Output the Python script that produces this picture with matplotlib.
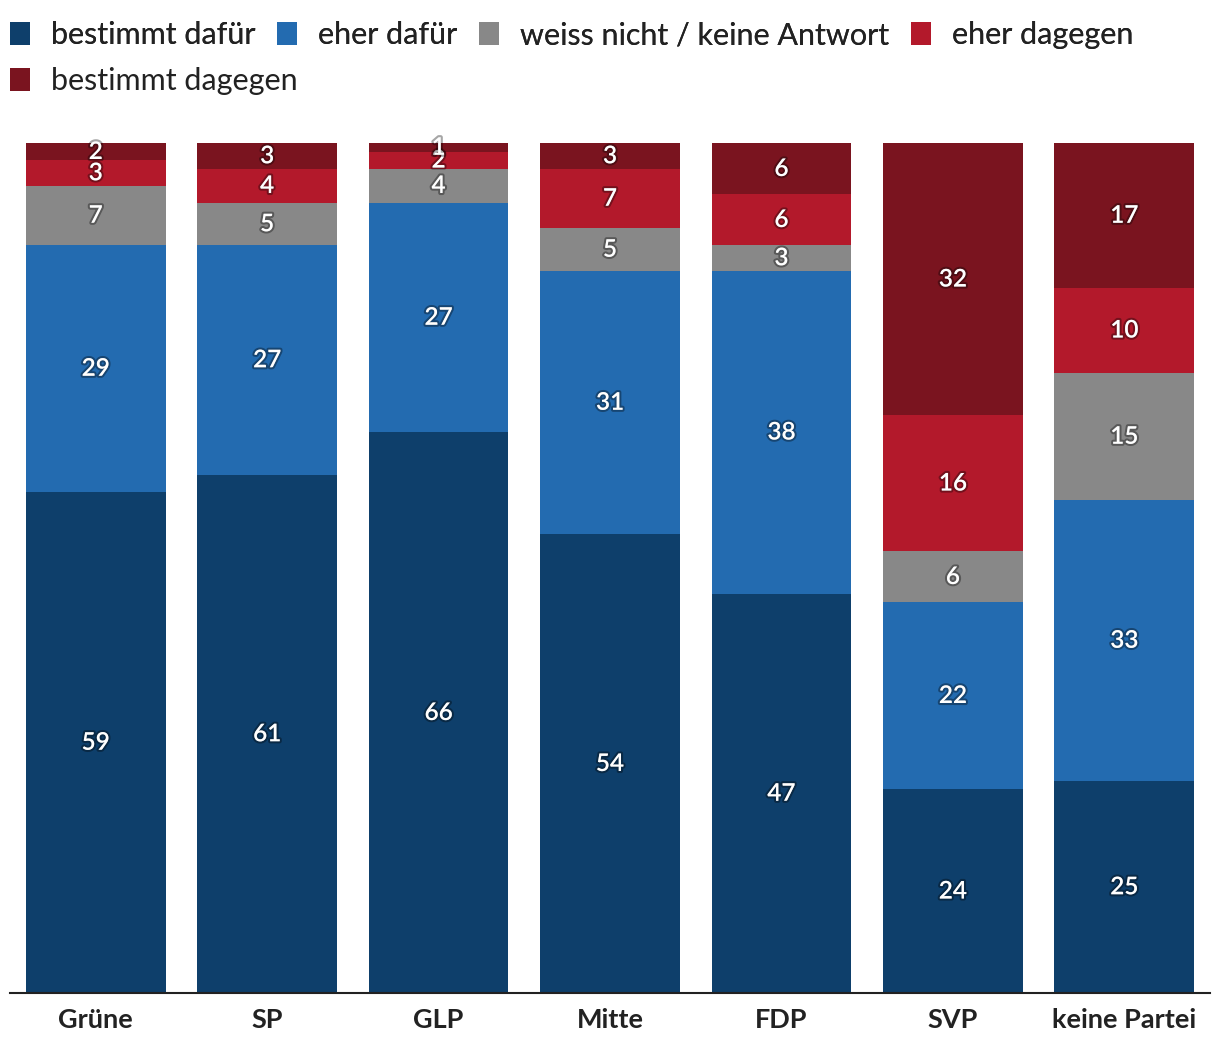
import matplotlib
matplotlib.use("Agg")
import matplotlib.pyplot as plt
import matplotlib.patheffects as pe
from matplotlib.patches import Patch
import numpy as np

plt.rcParams["font.family"] = ["Lato", "DejaVu Sans"]

parties = ["Grüne", "SP", "GLP", "Mitte", "FDP", "SVP", "keine Partei"]
series_names = ["bestimmt dafür", "eher dafür", "weiss nicht / keine Antwort",
                "eher dagegen", "bestimmt dagegen"]
bestimmt_dafuer = [59, 61, 66, 54, 47, 24, 25]
eher_dafuer = [29, 27, 27, 31, 38, 22, 33]
weiss_nicht = [7, 5, 4, 5, 3, 6, 15]
eher_dagegen = [3, 4, 2, 7, 6, 16, 10]
bestimmt_dagegen = [2, 3, 1, 3, 6, 32, 17]
colors = ["#0e3f6b", "#236bb0", "#888888", "#b3192b", "#7a141f"]

series = [bestimmt_dafuer, eher_dafuer, weiss_nicht, eher_dagegen, bestimmt_dagegen]

fig = plt.figure(figsize=(12.2, 10.56), dpi=100)
ax = fig.add_axes([10 / 1220, 1 - 993 / 1056, 1200 / 1220, 850 / 1056])

x = np.arange(len(parties))
bottom = np.zeros(len(parties))
shadow = [pe.withStroke(linewidth=3, foreground=(0, 0, 0, 0.35))]
for vals, col in zip(series, colors):
    vals = np.array(vals, dtype=float)
    ax.bar(x, vals, bottom=bottom, width=0.815, color=col, linewidth=0)
    for xi, b, v in zip(x, bottom, vals):
        ax.text(xi, b + v / 2, f"{int(v)}", ha="center", va="center",
                color="white", fontsize=17.5, fontweight="semibold",
                path_effects=shadow)
    bottom += vals

ax.set_xlim(-0.5, len(parties) - 0.5)
ax.set_ylim(0, 100)
ax.set_xticks(x)
ax.set_xticklabels(parties, fontsize=19.5, fontweight="bold", color="#222222")
ax.tick_params(axis="x", length=0, pad=11)
ax.set_yticks([])
for s in ["top", "left", "right"]:
    ax.spines[s].set_visible(False)
ax.spines["bottom"].set_linewidth(1.5)
ax.spines["bottom"].set_color("#222222")

handles = [Patch(facecolor=c, edgecolor="none") for c in colors]
leg_kw = dict(loc="upper left", frameon=False, fontsize=22,
              handlelength=0.65, handleheight=0.8, handletextpad=0.7,
              columnspacing=0.7, borderaxespad=0, borderpad=0,
              labelcolor="#222222")
leg1 = fig.legend(handles[:4], series_names[:4], ncol=4,
                  bbox_to_anchor=(10 / 1220, 1 - 21 / 1056), **leg_kw)
fig.add_artist(leg1)
fig.legend(handles[4:], series_names[4:], ncol=1,
           bbox_to_anchor=(10 / 1220, 1 - 67 / 1056), **leg_kw)

fig.savefig("out.png", dpi=100)
